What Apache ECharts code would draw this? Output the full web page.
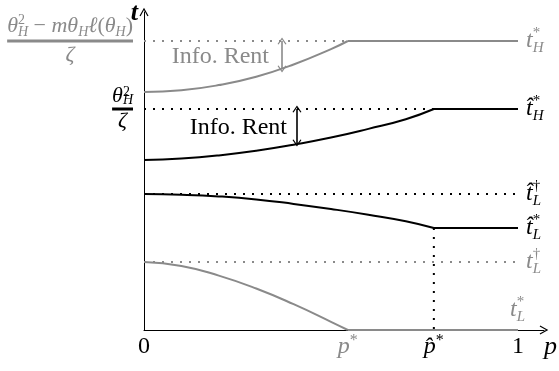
<!DOCTYPE html>
<html><head><meta charset="utf-8">
<script src="https://cdn.jsdelivr.net/npm/echarts@6/dist/echarts.min.js"></script>
<style>html,body{margin:0;padding:0;background:#fff}#c{width:559px;height:371px}</style>
</head><body><div id="c"></div>
<script>
// ---- data (arbitrary units: p in [0,1], t in chart units) ----
const pStar = 0.545;
const pHatStar = 0.775;
const tHStar = 289;
const tHatHStar = 221;
const tHatLDagger = 136;
const tHatLStar = 102;
const tLDagger = 68;
const tLStar = 0;

const grayHCurveP = [0, 0.1, 0.2, 0.3, 0.4, 0.5, 0.545];
const grayHCurveT = [238, 239.7, 244.9, 253.3, 265.5, 280.9, 289];
const blackHCurveP = [0, 0.1, 0.2, 0.3, 0.4, 0.5, 0.6, 0.7, 0.775];
const blackHCurveT = [170, 171.5, 174.6, 179.2, 185.3, 192.4, 201.1, 210.8, 221];
const blackLCurveP = [0, 0.1, 0.2, 0.3, 0.4, 0.5, 0.6, 0.7, 0.775];
const blackLCurveT = [136, 135.3, 133.6, 130.6, 126.1, 121.0, 115.3, 108.8, 102];
const grayLCurveP = [0, 0.1, 0.2, 0.3, 0.4, 0.5, 0.545];
const grayLCurveT = [68, 64, 54.4, 41.5, 25.8, 8.2, 0];

const xTickValues = [0, pStar, pHatStar, 1];
const yTickValues = [tHatHStar, tHStar];
// info-rent arrows: p position, top value, bottom value
const grayRent = [0.369, 289, 261];
const blackRent = [0.409, 221, 187];

// ---- styling ----
const GRAY = '#8a8a8a';
const BLACK = '#000';
const SERIF = '"Liberation Serif", "DejaVu Serif", serif';
const DOT = [2, 7];
const chevron = 'path://M5,0 L10,9 L8.8,9.6 L5,2.6 L1.2,9.6 L0,9 Z';

function zip(xs, ys) { return xs.map((x, i) => [x, ys[i]]); }

function supSub(color, main, sup, sub) {
  return `{${color}t|${main}}{${color}sup|${sup}}{${color}sub|${sub}}`;
}
function richFor(color) {
  const c = color === 'g' ? GRAY : BLACK;
  const r = {};
  r[color + 't'] = {fontFamily: SERIF, fontStyle: 'italic', fontSize: 24, lineHeight: 30, color: c, verticalAlign: 'middle', align: 'left'};
  r[color + 'sup'] = {fontFamily: SERIF, fontSize: 15, lineHeight: 14, width: 0, color: c, verticalAlign: 'top', align: 'left'};
  r[color + 'sub'] = {fontFamily: SERIF, fontStyle: 'italic', fontSize: 15, lineHeight: 14, color: c, verticalAlign: 'bottom', align: 'left'};
  return r;
}
const richG = richFor('g');
const richB = richFor('b');

function endLab(color, text, extra) {
  return Object.assign({
    show: true, distance: 8, formatter: text,
    rich: color === 'g' ? richG : richB
  }, extra || {});
}

function dotted(y, color, label) {
  const s = {
    type: 'line', data: [[0, y], [1, y]], symbol: 'none', silent: true, z: 1,
    lineStyle: {color: color, width: 2, type: DOT, cap: 'butt'}
  };
  if (label) s.endLabel = label;
  return s;
}
function curve(ps, ts, color) {
  return {
    type: 'line', data: zip(ps, ts), symbol: 'none', smooth: 0.5, silent: true, z: 3,
    lineStyle: {color: color, width: 2}
  };
}
function flat(p0, y, color, label) {
  return {
    type: 'line', data: [[p0, y], [1, y]], symbol: 'none', silent: true, z: 3,
    lineStyle: {color: color, width: 2}, endLabel: label
  };
}
function rentArrow(arr, color, dist) {
  return {
    type: 'line', data: [], symbol: 'none', silent: true, z: 4,
    markLine: {
      silent: true, symbol: [chevron, chevron], symbolSize: [9, 7], animation: false,
      lineStyle: {color: color, width: 1.6, type: 'solid'}, label: {show: false},
      data: [[{coord: [arr[0], arr[1]]}, {coord: [arr[0], arr[2]]}]]
    },
    markPoint: {
      silent: true, symbol: 'circle', symbolSize: 0, animation: false,
      label: {show: true, position: 'left', distance: dist, formatter: 'Info. Rent',
        fontFamily: SERIF, fontSize: 24, color: color},
      data: [{coord: [arr[0], (arr[1] + arr[2]) / 2 - 2]}]
    }
  };
}

const chart = echarts.init(document.getElementById('c'), null, {renderer: 'canvas'});
const L = 'left';
const yRich = {
  gi: {fontFamily: SERIF, fontStyle: 'italic', fontSize: 22, lineHeight: 26, color: GRAY, verticalAlign: 'middle', align: L},
  gr: {fontFamily: SERIF, fontSize: 22, lineHeight: 26, color: GRAY, verticalAlign: 'middle', align: L},
  gsup: {fontFamily: SERIF, fontSize: 14, lineHeight: 13, width: 0, color: GRAY, verticalAlign: 'top', align: L},
  gsub: {fontFamily: SERIF, fontStyle: 'italic', fontSize: 14, lineHeight: 13, color: GRAY, verticalAlign: 'bottom', align: L},
  ghr: {width: '100%', height: 3, lineHeight: 3, backgroundColor: GRAY, align: L},
  gd: {fontFamily: SERIF, fontStyle: 'italic', fontSize: 22, lineHeight: 26, color: GRAY, align: 'center'},
  bi: {fontFamily: SERIF, fontStyle: 'italic', fontSize: 22, lineHeight: 22, color: BLACK, verticalAlign: 'middle', align: L},
  bsup: {fontFamily: SERIF, fontSize: 14, lineHeight: 13, width: 0, color: BLACK, verticalAlign: 'top', align: L},
  bsub: {fontFamily: SERIF, fontStyle: 'italic', fontSize: 14, lineHeight: 11, color: BLACK, verticalAlign: 'bottom', align: L},
  bhr: {width: '100%', height: 3, lineHeight: 3, backgroundColor: BLACK, align: L},
  bd: {fontFamily: SERIF, fontStyle: 'italic', fontSize: 22, lineHeight: 22, color: BLACK, align: 'center'}
};
const xRich = {
  n: {fontFamily: SERIF, fontSize: 24, lineHeight: 28, color: BLACK, verticalAlign: 'middle'},
  gp: {fontFamily: SERIF, fontStyle: 'italic', fontSize: 24, lineHeight: 28, color: GRAY, verticalAlign: 'middle'},
  gs: {fontFamily: SERIF, fontSize: 16, lineHeight: 16, color: GRAY, verticalAlign: 'top'},
  bp: {fontFamily: SERIF, fontStyle: 'italic', fontSize: 24, lineHeight: 28, color: BLACK, verticalAlign: 'middle'},
  bs: {fontFamily: SERIF, fontSize: 16, lineHeight: 16, color: BLACK, verticalAlign: 'top'}
};

chart.setOption({
  animation: false,
  backgroundColor: '#fff',
  grid: {left: 144, right: 15, top: 12, bottom: 41, outerBoundsMode: 'none', containLabel: false},
  xAxis: {
    type: 'value', min: 0, max: 1.0695,
    name: 'p', nameLocation: 'end', nameGap: 0, nameMoveOverlap: false,
    nameTextStyle: {fontFamily: SERIF, fontStyle: 'italic', fontSize: 26, color: BLACK, verticalAlign: 'top', align: 'left', padding: [4, 0, 0, 0]},
    axisLine: {show: true, symbol: ['none', chevron], symbolSize: [9, 9], lineStyle: {color: BLACK, width: 1}},
    axisTick: {show: false}, splitLine: {show: false},
    axisLabel: {
      customValues: xTickValues, margin: 3,
      formatter: v => v === pStar ? '{gp|p}{gs|*}' : (v === pHatStar ? '{bp|p\u0302}{bs|*}' : '{n|' + v + '}'),
      rich: xRich
    }
  },
  yAxis: {
    type: 'value', min: 0, max: 318,
    name: 't', nameLocation: 'end', nameGap: -14, nameMoveOverlap: false,
    nameTextStyle: {fontFamily: SERIF, fontStyle: 'italic', fontWeight: 'bold', fontSize: 26, color: BLACK, align: 'right', verticalAlign: 'bottom', padding: [0, 6, 0, 0]},
    axisLine: {show: true, symbol: ['none', chevron], symbolSize: [9, 9], lineStyle: {color: BLACK, width: 1}},
    axisTick: {show: false}, splitLine: {show: false},
    axisLabel: {
      customValues: yTickValues, margin: 11,
      formatter: v => v === tHStar
        ? '{gi|θ}{gsup|2}{gsub|H}{gr| − }{gi|mθ}{gsub|H}{gi|ℓ}{gr|(}{gi|θ}{gsub|H}{gr|)}\n{ghr|}\n{gd|ζ}'
        : '{bi|θ}{bsup|2}{bsub|H}\n{bhr|}\n{bd|ζ}',
      rich: yRich
    }
  },
  series: [
    dotted(tHStar, GRAY),
    dotted(tHatHStar, BLACK),
    dotted(tHatLDagger, BLACK, endLab('b', supSub('b', 't\u0302', '†', 'L'))),
    dotted(tLDagger, GRAY, endLab('g', supSub('g', 't', '†', 'L'))),
    {type: 'line', data: [[pHatStar, tHatLStar], [pHatStar, tLStar]], symbol: 'none', silent: true, z: 1,
      lineStyle: {color: BLACK, width: 2, type: DOT, cap: 'butt'}},
    curve(grayHCurveP, grayHCurveT, GRAY),
    flat(pStar, tHStar, GRAY, endLab('g', supSub('g', 't', '*', 'H'))),
    curve(blackHCurveP, blackHCurveT, BLACK),
    flat(pHatStar, tHatHStar, BLACK, endLab('b', supSub('b', 't\u0302', '*', 'H'))),
    curve(blackLCurveP, blackLCurveT, BLACK),
    flat(pHatStar, tHatLStar, BLACK, endLab('b', supSub('b', 't\u0302', '*', 'L'))),
    curve(grayLCurveP, grayLCurveT, GRAY),
    flat(pStar, tLStar, GRAY, endLab('g', supSub('g', 't', '*', 'L'), {offset: [-16, -20]})),
    rentArrow(grayRent, GRAY, 13),
    rentArrow(blackRent, BLACK, 10)
  ]
});
</script></body></html>
